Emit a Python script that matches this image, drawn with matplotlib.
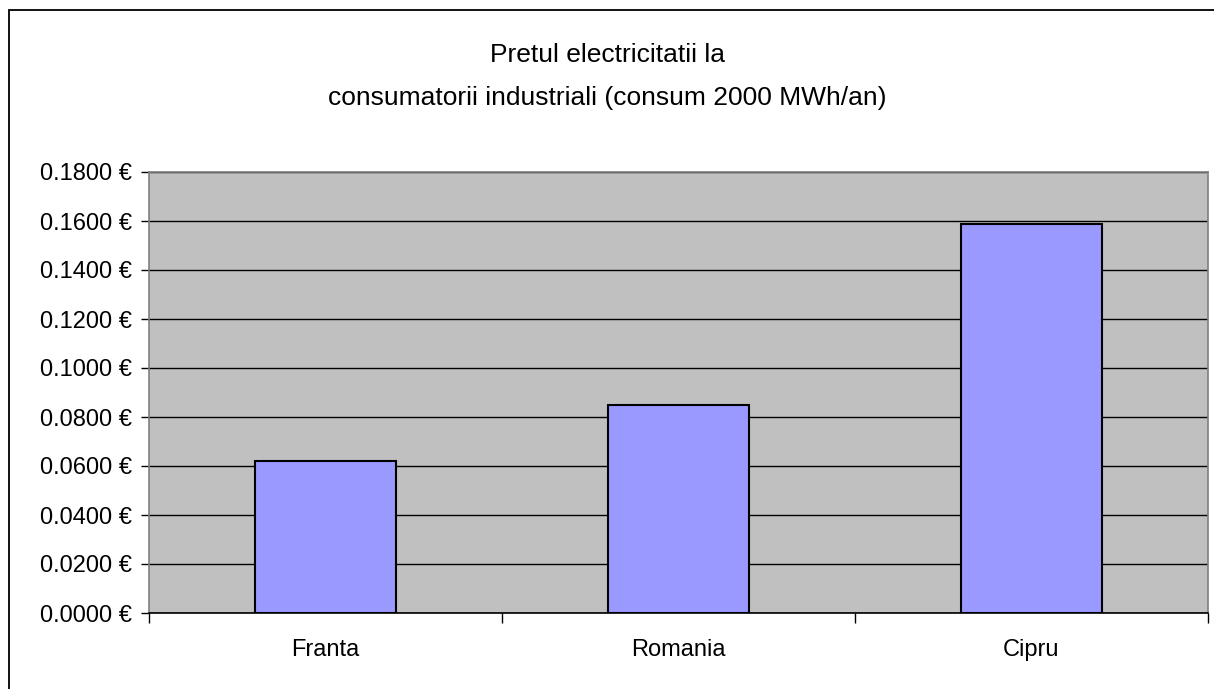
import matplotlib.pyplot as plt
import matplotlib.patches as patches
from matplotlib.ticker import FuncFormatter, FixedLocator

# === data ===
countries = ["Franta", "Romania", "Cipru"]
prices = [0.0620, 0.0847, 0.1588]
y_ticks = [0.0, 0.02, 0.04, 0.06, 0.08, 0.10, 0.12, 0.14, 0.16, 0.18]
title_lines = ["Pretul electricitatii la", "consumatorii industriali (consum 2000 MWh/an)"]

plt.rcParams["font.family"] = ["Liberation Sans", "DejaVu Sans"]

fig = plt.figure(figsize=(12.14, 6.89), dpi=100)
fig.patch.set_facecolor("white")

# outer chart frame (runs off the right/bottom edges like the original)
fig.patches.append(patches.Rectangle((8.5 / 1214, -0.1), 1.2, 1 - 10.5 / 689 + 0.1,
                                     transform=fig.transFigure, fill=False,
                                     edgecolor="black", linewidth=1.3))

ax = fig.add_axes([149 / 1214, (689 - 613) / 689, (1208 - 149) / 1214, (613 - 172) / 689])
ax.set_facecolor("#C0C0C0")

x = list(range(len(countries)))
ax.bar(x, prices, width=0.4, color="#9999FF", edgecolor="black", linewidth=1.5, zorder=3)

ax.set_xlim(-0.5, len(countries) - 0.5)
ax.set_ylim(y_ticks[0], y_ticks[-1])

# y axis
ax.set_yticks(y_ticks)
ax.yaxis.set_major_formatter(FuncFormatter(lambda v, p: f"{v:.4f} €"))
ax.tick_params(axis="y", direction="out", length=6, width=1, labelsize=17, pad=6)
ax.grid(axis="y", color="black", linewidth=1, zorder=1)
ax.set_axisbelow(True)

# x axis: ticks at category boundaries, labels at centres
ax.xaxis.set_major_locator(FixedLocator([i - 0.5 for i in range(len(countries) + 1)]))
ax.xaxis.set_major_formatter(FuncFormatter(lambda v, p: ""))
ax.xaxis.set_minor_locator(FixedLocator(x))
ax.set_xticklabels(countries, minor=True)
ax.tick_params(axis="x", which="major", direction="out", length=7, width=1)
ax.tick_params(axis="x", which="minor", length=0, labelsize=17, pad=19)

for side in ["left", "top", "right"]:
    ax.spines[side].set_color("#808080")
    ax.spines[side].set_linewidth(1.2)
ax.spines["bottom"].set_color("black")
ax.spines["bottom"].set_linewidth(1.2)

fig.text(0.5, 1 - 55 / 689, title_lines[0], ha="center", va="center", fontsize=19)
fig.text(0.5, 1 - 98 / 689, title_lines[1], ha="center", va="center", fontsize=19)

fig.savefig("out.png", dpi=100)
